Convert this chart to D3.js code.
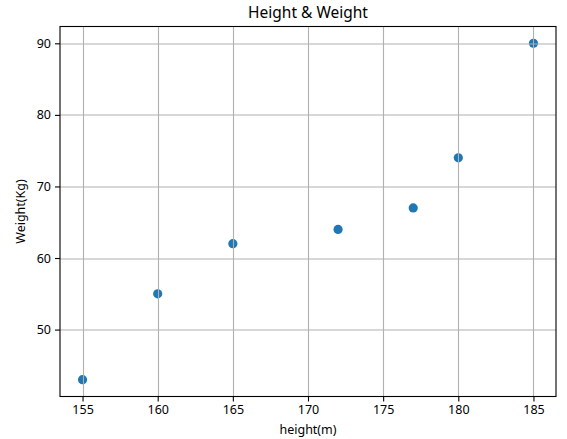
<!DOCTYPE html>
<html>
<head>
<meta charset="utf-8">
<script src="https://cdn.jsdelivr.net/npm/d3@7"></script>
<style>
  body { margin: 0; background: #fff; }
  text { font-family: "Noto Sans", "Open Sans", sans-serif; fill: #000; }
</style>
</head>
<body>
<div id="chart"></div>
<script>
// data
const heights = [155, 160, 165, 172, 177, 180, 185];
const weights = [43, 55, 62, 64, 67, 74, 90];
const xTicks = [155, 160, 165, 170, 175, 180, 185];
const yTicks = [50, 60, 70, 80, 90];

const FRAME_WIDTH = 567;
const FRAME_HEIGHT = 439;
const MARGINS = {left: 60, right: 11, top: 26.5, bottom: 42.5};
const VIS_WIDTH = FRAME_WIDTH - MARGINS.left - MARGINS.right;
const VIS_HEIGHT = FRAME_HEIGHT - MARGINS.top - MARGINS.bottom;

const svg = d3.select('#chart')
    .append('svg')
        .attr('width', FRAME_WIDTH)
        .attr('height', FRAME_HEIGHT);

const FRAME = svg.append('g')
    .attr('transform', 'translate(' + MARGINS.left + ',' + MARGINS.top + ')');

// matplotlib style 5% padding on each side
const xPad = (d3.max(heights) - d3.min(heights)) * 0.05;
const yPad = (d3.max(weights) - d3.min(weights)) * 0.05;

const xScale = d3.scaleLinear()
    .domain([d3.min(heights) - xPad, d3.max(heights) + xPad])
    .range([0, VIS_WIDTH]);

const yScale = d3.scaleLinear()
    .domain([d3.min(weights) - yPad, d3.max(weights) + yPad])
    .range([VIS_HEIGHT, 0]);

// points
FRAME.append('g')
    .selectAll('circle')
    .data(heights)
    .enter()
    .append('circle')
        .attr('cx', d => xScale(d))
        .attr('cy', (d, i) => yScale(weights[i]))
        .attr('r', 4.6)
        .style('fill', '#1f77b4');

// grid, drawn over the points like in the original
const grid = FRAME.append('g');
grid.selectAll('.vx')
    .data(xTicks)
    .enter()
    .append('line')
        .attr('x1', d => Math.round(xScale(d)) + 0.5)
        .attr('x2', d => Math.round(xScale(d)) + 0.5)
        .attr('y1', 0)
        .attr('y2', VIS_HEIGHT)
        .style('stroke', '#b0b0b0')
        .style('stroke-width', 1.1);
grid.selectAll('.hy')
    .data(yTicks)
    .enter()
    .append('line')
        .attr('x1', 0)
        .attr('x2', VIS_WIDTH)
        .attr('y1', d => Math.round(yScale(d)) + 0.5)
        .attr('y2', d => Math.round(yScale(d)) + 0.5)
        .style('stroke', '#b0b0b0')
        .style('stroke-width', 1.1);

// axes
const xAxis = FRAME.append('g')
    .attr('transform', 'translate(0,' + VIS_HEIGHT + ')')
    .call(d3.axisBottom(xScale).tickValues(xTicks).tickSizeOuter(0).tickSize(5).tickPadding(4));
const yAxis = FRAME.append('g')
    .call(d3.axisLeft(yScale).tickValues(yTicks).tickSizeOuter(0).tickSize(5).tickPadding(4));

[xAxis, yAxis].forEach(function (ax) {
    ax.select('.domain').remove();
    ax.selectAll('line').style('stroke', '#000').style('stroke-width', 1.1);
    ax.selectAll('text')
        .style('font-family', '"Noto Sans", sans-serif')
        .style('font-size', '12.5px')
        .style('fill', '#000');
});

// frame around the plot area
FRAME.append('rect')
    .attr('x', 0)
    .attr('y', 0)
    .attr('width', VIS_WIDTH)
    .attr('height', VIS_HEIGHT)
    .style('fill', 'none')
    .style('stroke', '#000')
    .style('stroke-width', 1.1);

// labels
svg.append('text')
    .attr('x', MARGINS.left + VIS_WIDTH / 2)
    .attr('y', 18)
    .attr('text-anchor', 'middle')
    .style('font-size', '15.5px')
    .text('Height & Weight');

svg.append('text')
    .attr('x', MARGINS.left + VIS_WIDTH / 2)
    .attr('y', 434)
    .attr('text-anchor', 'middle')
    .style('font-size', '12.5px')
    .text('height(m)');

svg.append('text')
    .attr('transform', 'translate(25,' + (MARGINS.top + VIS_HEIGHT / 2) + ') rotate(-90)')
    .attr('text-anchor', 'middle')
    .style('font-size', '12.5px')
    .text('Weight(Kg)');
</script>
</body>
</html>
